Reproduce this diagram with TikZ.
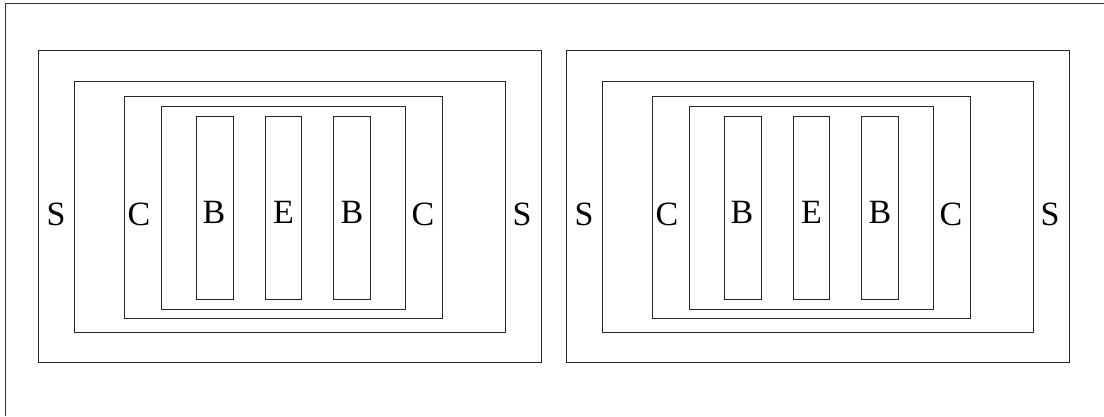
\documentclass[tikz,border=0pt]{standalone}
\usepackage{fontspec}
\setmainfont{Liberation Serif}
\begin{document}
\begin{tikzpicture}[x=1pt,y=-1pt,
  frameline/.style={line width=1pt,draw=black!80},
  layer/.style={line width=1pt,draw=black!85},
  lbl/.style={font=\fontsize{34}{34}\selectfont,inner sep=0pt,anchor=base}]
\useasboundingbox (0,0) rectangle (1104,416);
% page frame (top and left edges)
\draw[frameline] (5,416) -- (5,3) -- (1104,3);
% two identical cells, side by side
\foreach \dx/\id in {0/l,528/r}{
  \begin{scope}[xshift=\dx]
    \draw[layer] (38,50) rectangle (541.5,362);
    \draw[layer] (74.5,81) rectangle (505,332);
    \draw[layer] (124.5,96) rectangle (442.5,318);
    \draw[layer] (161,106) rectangle (405.5,309);
    \draw[layer] (196.5,116) rectangle (233,299);
    \draw[layer] (265,116) rectangle (301.5,299);
    \draw[layer] (333.5,116) rectangle (370,299);
    \node[lbl] (s1\id) at (56,225.5) {S};
    \node[lbl] (c1\id) at (139,225.5) {C};
    \node[lbl] (b1\id) at (214,223.5) {B};
    \node[lbl] (e\id)  at (283.5,223.5) {E};
    \node[lbl] (b2\id) at (352,223.5) {B};
    \node[lbl] (c2\id) at (423,225.5) {C};
    \node[lbl] (s2\id) at (522,225.5) {S};
  \end{scope}
}
\end{tikzpicture}
\end{document}
